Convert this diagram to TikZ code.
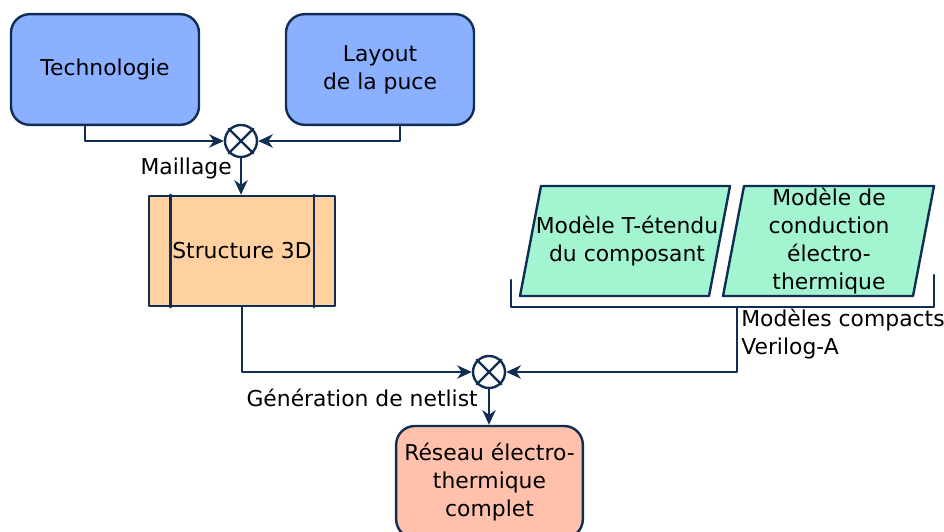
\documentclass[tikz,border=0pt]{standalone}
\usepackage{fontspec}
\setmainfont{DejaVu Sans}
\usepackage{tikz}
\usetikzlibrary{arrows,arrows.meta}
\definecolor{navy}{RGB}{16,45,84}
\definecolor{bleu}{RGB}{138,176,255}
\definecolor{orange}{RGB}{255,208,160}
\definecolor{saumon}{RGB}{255,192,172}
\definecolor{menthe}{RGB}{162,245,208}
\tikzset{
  bloc/.style={draw=navy,line width=1.8pt,rounded corners=14pt,align=center,minimum width=141pt,minimum height=83pt,inner sep=0pt},
  somme/.style={draw=navy,line width=1.8pt,circle,minimum size=24pt,inner sep=0pt},
  lien/.style={draw=navy,line width=1.8pt},
  txt/.style={align=center,inner sep=0pt}
}
\begin{document}
\begin{tikzpicture}[line cap=round,line join=round,>={Stealth[length=11pt,width=10pt,inset=3.5pt]},x=0.75pt,y=-0.75pt,font=\fontsize{16.4}{21}\selectfont]
      \useasboundingbox (0,0) rectangle (944,531);
      % blocs d'entree
      \node[bloc,fill=bleu] (techno) at (105,69.5) {Technologie};
      \node[bloc,fill=bleu] (layout) at (380,69.5) {Layout\\de la puce};
      \node[somme] (m1) at (241,141) {};
      \draw[lien] (m1.north west) -- (m1.south east) (m1.north east) -- (m1.south west);
      \draw[lien,->] ([xshift=-15pt]techno.south) |- (m1.west);
      \draw[lien,->] ([xshift=15pt]layout.south) |- (m1.east);
      \node[anchor=east,inner sep=0pt] (maillage) at (232,168) {Maillage};
      % structure 3D
      \node[draw=navy,line width=1.8pt,fill=orange,minimum width=139.5pt,minimum height=82.5pt,inner sep=0pt] (struct) at (242,251) {Structure 3D};
      \draw[lien] ([xshift=17pt]struct.north west) -- ([xshift=17pt]struct.south west);
      \draw[lien] ([xshift=-16.5pt]struct.north east) -- ([xshift=-16.5pt]struct.south east);
      \draw[lien,->] (m1.south) -- (m1.south |- struct.north);
      % modeles compacts
      \filldraw[lien,fill=menthe] (541,186) -- (730,186) -- (709,296) -- (520,296) -- cycle;
      \filldraw[lien,fill=menthe] (744,186) -- (934,186) -- (913,296) -- (723,296) -- cycle;
      \node[txt] (tetendu) at (627,241) {Modèle T-étendu\\du composant};
      \node[txt] (conduc) at (829,241) {Modèle de\\conduction\\électro-\\thermique};
      \coordinate (bg) at (511,280);
      \coordinate (bd) at (934,275);
      \coordinate (sortie) at (737,307);
      \draw[lien] (bg) -- (511,307) -- (934,307) -- (bd);
      \node[anchor=north west,align=left,inner sep=0pt] (compacts) at (741,309) {Modèles compacts\\Verilog-A};
      % reseau
      \node[somme] (m2) at (489,372) {};
      \draw[lien] (m2.north west) -- (m2.south east) (m2.north east) -- (m2.south west);
      \draw[lien,->] (struct.south) |- (m2.west);
      \draw[lien,->] (sortie) |- (m2.east);
      \node[anchor=east,inner sep=0pt] (netlist) at (478,398) {Génération de netlist};
      \node[bloc,fill=saumon,minimum width=140pt,minimum height=84pt] (reseau) at (489.5,482) {Réseau électro-\\thermique\\complet};
      \draw[lien,->] (m2.south) -- (m2.south |- reseau.north);
    \end{tikzpicture}
\end{document}
